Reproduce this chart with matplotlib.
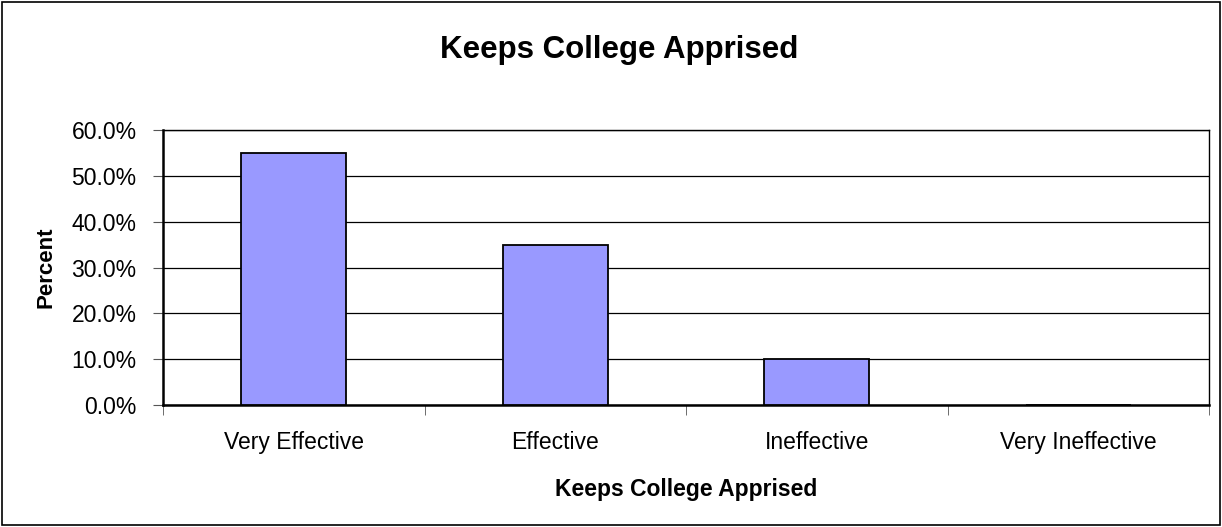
import matplotlib
matplotlib.use("Agg")
import matplotlib.pyplot as plt
from matplotlib.ticker import FuncFormatter, FixedLocator
from matplotlib.patches import Rectangle

# data
categories = ["Very Effective", "Effective", "Ineffective", "Very Ineffective"]
percents = [55.0, 35.0, 10.0, 0.0]
yticks = [0, 10, 20, 30, 40, 50, 60]

plt.rcParams['font.family'] = ['Liberation Sans', 'DejaVu Sans']

fig = plt.figure(figsize=(12.22, 5.27), dpi=100)
ax = fig.add_axes([0.1334, 0.2315, 0.856, 0.5218])

x = list(range(len(categories)))
ax.bar(x, percents, width=0.4, color="#9999FF", edgecolor="black", linewidth=1.3, zorder=3)

ax.set_xlim(-0.5, len(categories) - 0.5)
ax.set_ylim(0, 60)
ax.set_yticks(yticks)
ax.yaxis.set_major_formatter(FuncFormatter(lambda v, p: "%.1f%%" % v))
ax.yaxis.grid(True, color="black", linewidth=0.9)
ax.set_axisbelow(True)

ax.set_xticks(x)
ax.set_xticklabels(categories)
ax.tick_params(axis="x", which="major", length=0, pad=19, labelsize=16.5)
ax.xaxis.set_minor_locator(FixedLocator([i - 0.5 for i in range(len(categories) + 1)]))
ax.tick_params(axis="x", which="minor", length=7, color="#555555", direction="out")
ax.tick_params(axis="y", length=7, color="#555555", direction="out", labelsize=16.5, pad=12)

for s in ax.spines.values():
    s.set_linewidth(1.0)
    s.set_color("black")
ax.spines["bottom"].set_linewidth(1.8)
ax.spines["left"].set_linewidth(1.8)

ax.set_xlabel("Keeps College Apprised", fontsize=16.5, fontweight="bold", labelpad=17)
ax.set_ylabel("Percent", fontsize=16, fontweight="bold", labelpad=11)
fig.text(0.507, 0.905, "Keeps College Apprised", ha="center", va="center",
         fontsize=22.5, fontweight="bold")

# outer frame
fig.patches.append(Rectangle((0.002, 0.003), 0.996, 0.994, transform=fig.transFigure,
                             fill=False, edgecolor="black", linewidth=1.2))

fig.savefig("out.png", dpi=100)
